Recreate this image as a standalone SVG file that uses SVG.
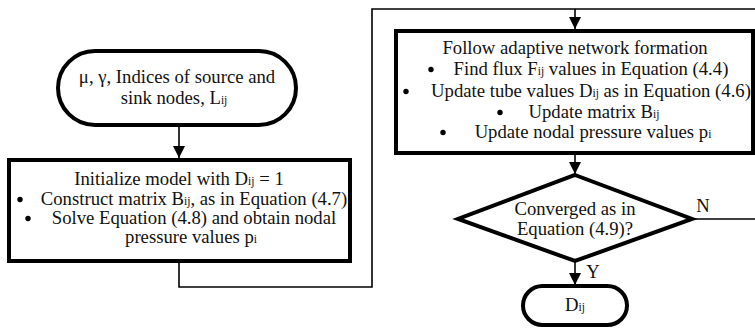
<svg xmlns="http://www.w3.org/2000/svg" width="755" height="328" viewBox="0 0 755 328">
<style>
.t{font-family:"Liberation Serif","Times New Roman",serif;font-size:18.7px;fill:#111}
.c{text-anchor:middle}
.s{font-size:11.5px}
.dot{fill:#000}
.node{fill:#fff;stroke:#000;stroke-width:4}
.conn{fill:none;stroke:#000;stroke-width:1.6}
</style>
<defs>
<marker id="ah" markerUnits="userSpaceOnUse" markerWidth="12" markerHeight="14" viewBox="0 0 12 14" refX="12" refY="7" orient="auto">
<path d="M0,1 L12,7 L0,13 Z" fill="#000"/>
</marker>
</defs>
<g id="connectors">
<path class="conn" d="M179,125 V158" marker-end="url(#ah)"/>
<path class="conn" d="M179,262 V287 H372 V9 H757"/>
<path class="conn" d="M575,9 V29" marker-end="url(#ah)"/>
<path class="conn" d="M575,154 V174" marker-end="url(#ah)"/>
<path class="conn" d="M575,261 V285" marker-end="url(#ah)"/>
<path class="conn" d="M692,219 H757"/>
<text class="t c" x="593" y="278">Y</text>
<text class="t c" x="703" y="212">N</text>
</g>
<g id="start">
<rect class="node" x="58" y="51" width="238" height="74" rx="37" ry="37"/>
<text class="t c" x="177" y="83">μ, γ, Indices of source and</text>
<text class="t c" x="174" y="104">sink nodes, L<tspan class="s">ij</tspan></text>
</g>
<g id="init">
<rect class="node" x="9" y="160" width="341" height="101"/>
<text class="t c" x="179" y="185">Initialize model with D<tspan class="s">ij</tspan> = 1</text>
<circle class="dot" cx="20" cy="199.5" r="2.7"/>
<text class="t c" x="194" y="205">Construct matrix B<tspan class="s">ij</tspan>, as in Equation (4.7)</text>
<circle class="dot" cx="28" cy="218.5" r="2.7"/>
<text class="t c" x="194" y="224">Solve Equation (4.8) and obtain nodal</text>
<text class="t c" x="191" y="243">pressure values p<tspan class="s">i</tspan></text>
</g>
<g id="adaptive">
<rect class="node" x="396" y="31" width="357" height="122"/>
<text class="t c" x="575" y="54">Follow adaptive network formation</text>
<circle class="dot" cx="431" cy="69.5" r="2.7"/>
<text class="t c" x="591" y="75">Find flux F<tspan class="s">ij</tspan> values in Equation (4.4)</text>
<circle class="dot" cx="406" cy="91.5" r="2.7"/>
<text class="t c" x="591" y="97">Update tube values D<tspan class="s">ij</tspan> as in Equation (4.6)</text>
<circle class="dot" cx="500" cy="112.5" r="2.7"/>
<text class="t c" x="594" y="118">Update matrix B<tspan class="s">ij</tspan></text>
<circle class="dot" cx="443" cy="132.5" r="2.7"/>
<text class="t c" x="593" y="138">Update nodal pressure values p<tspan class="s">i</tspan></text>
</g>
<g id="decision">
<polygon class="node" points="575,175 692,219 575,261 458,219"/>
<text class="t c" x="575" y="215">Converged as in</text>
<text class="t c" x="575" y="235">Equation (4.9)?</text>
</g>
<g id="end">
<rect class="node" x="523" y="286" width="104" height="39" rx="19.5" ry="19.5"/>
<text class="t c" x="575" y="311">D<tspan class="s">ij</tspan></text>
</g>
</svg>
